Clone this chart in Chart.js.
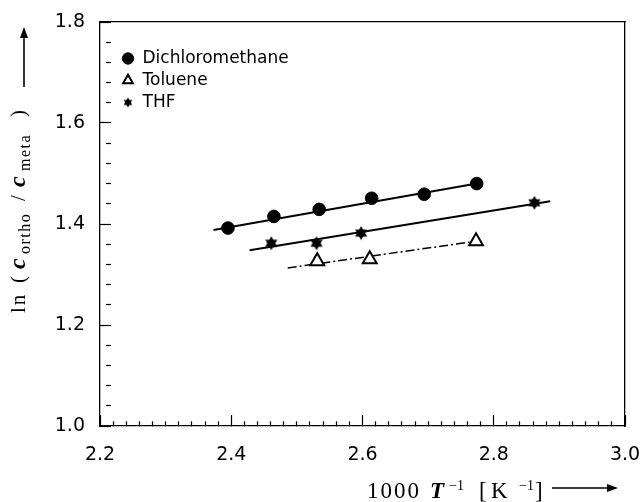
<!DOCTYPE html>
<html>
<head>
<meta charset="utf-8">
<script src="https://cdn.jsdelivr.net/npm/chart.js@4.4.1/dist/chart.umd.min.js"></script>
<style>
  html, body { margin: 0; padding: 0; background: #fff; }
  #wrap { width: 641px; height: 502px; }
</style>
</head>
<body>
<div id="wrap"><canvas id="chart" width="641" height="502"></canvas></div>
<script>
const seriesNames = ['Dichloromethane', 'Toluene', 'THF'];

const dcmX = [2.395, 2.465, 2.534, 2.614, 2.694, 2.774];
const dcmY = [1.392, 1.415, 1.429, 1.451, 1.459, 1.480];
const tolX = [2.531, 2.611, 2.773];
const tolY = [1.326, 1.330, 1.366];
const thfX = [2.461, 2.530, 2.598, 2.862];
const thfY = [1.362, 1.362, 1.382, 1.442];

// straight fit lines, end points
const dcmFitX = [2.373, 2.783];
const dcmFitY = [1.388, 1.482];
const tolFitX = [2.486, 2.763];
const tolFitY = [1.313, 1.364];
const thfFitX = [2.428, 2.886];
const thfFitY = [1.348, 1.445];

const xTicks = [2.2, 2.4, 2.6, 2.8, 3.0];
const yTicks = [1.0, 1.2, 1.4, 1.6, 1.8];

const sans = '"DejaVu Sans", sans-serif';
const serif = '"Liberation Serif", "Times New Roman", serif';

function toPoints(xs, ys) {
  return xs.map((x, i) => ({ x: x, y: ys[i] }));
}

function isMajor(v, list) {
  return list.some(t => Math.abs(t - v) < 1e-6);
}

// filled six pointed star
function starMarker(r) {
  const size = Math.ceil(r * 2 + 2);
  const c = document.createElement('canvas');
  c.width = size;
  c.height = size;
  const g = c.getContext('2d');
  const cx = size / 2, cy = size / 2;
  g.fillStyle = '#000';
  [-Math.PI / 2, Math.PI / 2].forEach(a0 => {
    g.beginPath();
    for (let k = 0; k < 3; k++) {
      const a = a0 + k * 2 * Math.PI / 3;
      g.lineTo(cx + r * Math.cos(a), cy + r * Math.sin(a));
    }
    g.closePath();
    g.fill();
  });
  return c;
}

const starBig = starMarker(7);
const starSmall = starMarker(5);

function drawArrow(ctx, x1, y1, x2, y2) {
  const a = Math.atan2(y2 - y1, x2 - x1);
  const hl = 11, hw = 4;
  ctx.lineWidth = 1.6;
  ctx.beginPath();
  ctx.moveTo(x1, y1);
  ctx.lineTo(x2 - hl * Math.cos(a), y2 - hl * Math.sin(a));
  ctx.stroke();
  ctx.beginPath();
  ctx.moveTo(x2, y2);
  ctx.lineTo(x2 - hl * Math.cos(a) - hw * Math.sin(a), y2 - hl * Math.sin(a) + hw * Math.cos(a));
  ctx.lineTo(x2 - hl * Math.cos(a) + hw * Math.sin(a), y2 - hl * Math.sin(a) - hw * Math.cos(a));
  ctx.closePath();
  ctx.fill();
}

const axisTitles = {
  id: 'axisTitles',
  afterDraw(chart) {
    const ctx = chart.ctx;
    ctx.save();
    ctx.fillStyle = '#000';
    ctx.strokeStyle = '#000';
    ctx.textAlign = 'left';
    ctx.textBaseline = 'alphabetic';

    // x title: 1000 T^-1 [K^-1]
    const xb = 498;
    ctx.letterSpacing = '2px';
    ctx.font = '23px ' + serif;
    ctx.fillText('1000', 367, xb);
    ctx.letterSpacing = '0px';
    ctx.font = 'bold italic 23px ' + serif;
    ctx.fillText('T', 430, xb);
    ctx.font = '14px ' + serif;
    ctx.fillText('\u22121', 449, xb - 8);
    ctx.font = '23px ' + serif;
    ctx.fillText('[', 479, xb);
    ctx.fillText('K', 491, xb);
    ctx.font = '14px ' + serif;
    ctx.fillText('\u22121', 519, xb - 8);
    ctx.font = '23px ' + serif;
    ctx.fillText(']', 535, xb);
    drawArrow(ctx, 552, 488, 618, 488);

    // y title: ln ( c_ortho / c_meta )
    ctx.save();
    ctx.translate(25, 313);
    ctx.rotate(-Math.PI / 2);
    ctx.letterSpacing = '2px';
    ctx.font = '21px ' + serif;
    ctx.fillText('ln', 0, 0);
    ctx.letterSpacing = '0px';
    ctx.fillText('(', 30, 0);
    ctx.font = 'bold italic 24px ' + serif;
    ctx.fillText('c', 44, 0);
    ctx.letterSpacing = '1.5px';
    ctx.font = '16px ' + serif;
    ctx.fillText('ortho', 59, 5);
    ctx.letterSpacing = '0px';
    ctx.font = '21px ' + serif;
    ctx.fillText('/', 112, 0);
    ctx.font = 'bold italic 24px ' + serif;
    ctx.fillText('c', 126, 0);
    ctx.letterSpacing = '1.5px';
    ctx.font = '16px ' + serif;
    ctx.fillText('meta', 142, 5);
    ctx.letterSpacing = '0px';
    ctx.font = '21px ' + serif;
    ctx.fillText(')', 196, 0);
    drawArrow(ctx, 226, -1, 286, -1);
    ctx.restore();

    ctx.restore();
  }
};

// put the legend in the upper left corner of the plot
const legendPlace = {
  id: 'legendPlace',
  afterLayout(chart) {
    const lg = chart.legend;
    lg.left = chart.chartArea.left + 17;
    lg.top = chart.chartArea.top + 23;
  }
};

const markerDatasets = [
  {
    label: seriesNames[0],
    data: toPoints(dcmX, dcmY),
    pointStyle: 'circle',
    pointRadius: 6.3,
    backgroundColor: '#000',
    borderColor: '#000',
    borderWidth: 1,
    showLine: false,
    order: 0
  },
  {
    label: seriesNames[1],
    data: toPoints(tolX, tolY),
    pointStyle: 'triangle',
    pointRadius: 8,
    backgroundColor: '#fff',
    borderColor: '#000',
    borderWidth: 2,
    showLine: false,
    order: 0
  },
  {
    label: seriesNames[2],
    data: toPoints(thfX, thfY),
    pointStyle: starBig,
    backgroundColor: '#000',
    borderColor: '#000',
    borderWidth: 1,
    showLine: false,
    order: 0
  }
];

const fitDatasets = [
  { data: toPoints(dcmFitX, dcmFitY), borderWidth: 2, borderDash: [] },
  { data: toPoints(tolFitX, tolFitY), borderWidth: 1.5, borderDash: [9, 3, 2, 3] },
  { data: toPoints(thfFitX, thfFitY), borderWidth: 2, borderDash: [] }
].map(d => Object.assign(d, {
  label: '',
  showLine: true,
  pointRadius: 0,
  borderColor: '#000',
  backgroundColor: '#000',
  fill: false,
  order: 1
}));

// axis boxes keep a fixed size and do not push the plot area around
function fixX(h) {
  return s => { s.height = h; s.paddingLeft = 0; s.paddingRight = 0; };
}
function fixY(w) {
  return s => { s.width = w; s.paddingTop = 0; s.paddingBottom = 0; };
}

new Chart(document.getElementById('chart'), {
  type: 'scatter',
  data: { datasets: markerDatasets.concat(fitDatasets) },
  options: {
    responsive: false,
    animation: false,
    layout: { padding: { left: 0, top: 22, right: 16, bottom: 0 } },
    plugins: {
      tooltip: { enabled: false },
      legend: {
        position: 'chartArea',
        align: 'start',
        labels: {
          usePointStyle: true,
          boxWidth: 12,
          boxHeight: 8,
          padding: 5,
          color: '#000',
          font: { family: sans, size: 17 },
          filter: item => item.datasetIndex < 3,
          generateLabels(chart) {
            const items = Chart.defaults.plugins.legend.labels.generateLabels(chart);
            items.forEach(it => {
              if (it.datasetIndex === 2) it.pointStyle = starSmall;
            });
            return items;
          }
        }
      }
    },
    scales: {
      x: {
        type: 'linear',
        position: 'bottom',
        min: xTicks[0],
        max: xTicks[xTicks.length - 1],
        afterFit: fixX(76),
        border: { display: true, color: '#000', width: 1.3 },
        grid: {
          drawOnChartArea: false,
          drawTicks: true,
          tickLength: -11,
          tickColor: '#000',
          tickWidth: 1.2,
          tickBorderDash: c => isMajor(c.tick.value, xTicks) ? [] : [5, 40]
        },
        ticks: {
          stepSize: 0.02,
          autoSkip: false,
          maxRotation: 0,
          padding: 29,
          color: '#000',
          font: { family: sans, size: 19 },
          callback: v => isMajor(v, xTicks) ? v.toFixed(1) : ''
        }
      },
      y: {
        type: 'linear',
        position: 'left',
        min: yTicks[0],
        max: yTicks[yTicks.length - 1],
        afterFit: fixY(100),
        border: { display: true, color: '#000', width: 1.3 },
        grid: {
          drawOnChartArea: false,
          drawTicks: true,
          tickLength: -11,
          tickColor: '#000',
          tickWidth: 1.2,
          tickBorderDash: c => isMajor(c.tick.value, yTicks) ? [] : [5, 40]
        },
        ticks: {
          stepSize: 0.04,
          autoSkip: false,
          padding: 26,
          color: '#000',
          font: { family: sans, size: 19 },
          callback: v => isMajor(v, yTicks) ? v.toFixed(1) : ''
        }
      },
      xTop: {
        type: 'linear',
        position: 'top',
        min: xTicks[0],
        max: xTicks[xTicks.length - 1],
        afterFit: fixX(0),
        border: { display: true, color: '#000', width: 1.3 },
        grid: { drawOnChartArea: false, drawTicks: false },
        ticks: { display: false }
      },
      yRight: {
        type: 'linear',
        position: 'right',
        min: yTicks[0],
        max: yTicks[yTicks.length - 1],
        afterFit: fixY(0),
        border: { display: true, color: '#000', width: 1.3 },
        grid: { drawOnChartArea: false, drawTicks: false },
        ticks: { display: false }
      }
    }
  },
  plugins: [legendPlace, axisTitles]
});
</script>
</body>
</html>
